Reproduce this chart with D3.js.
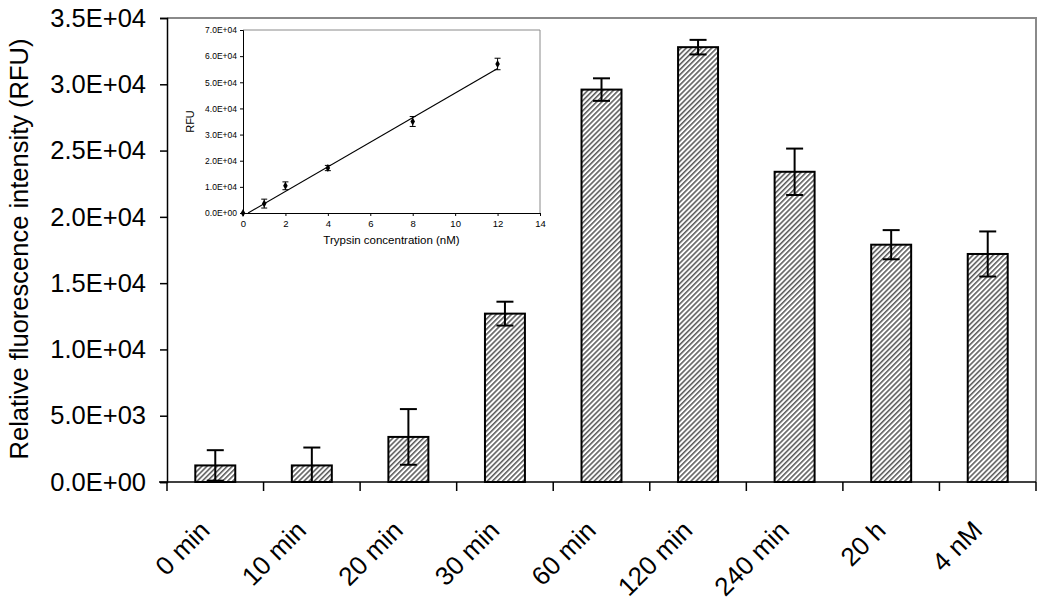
<!DOCTYPE html>
<html><head><meta charset="utf-8">
<script src="https://cdn.jsdelivr.net/npm/d3@7"></script>
<style>body{margin:0;background:#fff} text{font-family:Arial,"Liberation Sans",sans-serif;fill:#000}</style>
</head><body><svg id="c" width="1050" height="608"></svg>
<script>
// ---- data ----
const categories = ["0 min","10 min","20 min","30 min","60 min","120 min","240 min","20 h","4 nM"];
const rfu = [1250,1250,3400,12700,29600,32800,23400,17900,17200];
const rfuErr = [1150,1350,2100,900,850,550,1750,1100,1700];
const yTicks = [0,5000,10000,15000,20000,25000,30000,35000];
const yTickLabels = ["0.0E+00","5.0E+03","1.0E+04","1.5E+04","2.0E+04","2.5E+04","3.0E+04","3.5E+04"];

const insetConc = [0,1,2,4,8,12];
const insetRfu = [0,3600,10400,17200,35000,57000];
const insetErr = [0,1700,1500,1000,1900,2200];
const insetTrendX = [0.24,12];
const insetTrendY = [0,55300];
const insetYTicks = [0,10000,20000,30000,40000,50000,60000,70000];
const insetYTickLabels = ["0.0E+00","1.0E+04","2.0E+04","3.0E+04","4.0E+04","5.0E+04","6.0E+04","7.0E+04"];
const insetXTicks = [0,2,4,6,8,10,12,14];

// ---- main chart ----
const svg = d3.select("#c");
const L = 167, R = 1036, T = 18, B = 482;

const defs = svg.append("defs");
const pat = defs.append("pattern").attr("id","hatch").attr("patternUnits","userSpaceOnUse")
  .attr("width",3.6).attr("height",3.6).attr("patternTransform","rotate(45)");
pat.append("rect").attr("width",3.6).attr("height",3.6).attr("fill","#fff");
pat.append("line").attr("x1",0.8).attr("y1",0).attr("x2",0.8).attr("y2",3.6)
  .attr("stroke","#3a3a3a").attr("stroke-width",1.3);

const x = d3.scaleBand().domain(categories).range([L,R]).paddingInner(0.586).paddingOuter(0.293);
const y = d3.scaleLinear().domain([0,35000]).range([B,T]);

// plot area border (gray top/right)
svg.append("path").attr("d",`M${L},${y(35000)}H${R}V${B}`).attr("fill","none")
  .attr("stroke","#8a8a8a").attr("stroke-width",2);

// y axis
const yAxis = d3.axisLeft(y).tickValues(yTicks).tickSize(7).tickPadding(14)
  .tickFormat((d,i)=>yTickLabels[i]);
const gy = svg.append("g").attr("transform",`translate(${L},0)`).call(yAxis);
gy.select(".domain").attr("stroke","#000").attr("stroke-width",1.5);
gy.selectAll(".tick line").attr("stroke","#000").attr("stroke-width",1.5);
gy.selectAll(".tick text").attr("font-size",25.5).attr("font-family","Arial, 'Liberation Sans', sans-serif");

// bars
const bw = x.bandwidth();
svg.append("g").selectAll("rect").data(rfu).join("rect")
  .attr("x",(d,i)=>x(categories[i])).attr("y",d=>y(d))
  .attr("width",bw).attr("height",d=>B-y(d))
  .attr("fill","url(#hatch)").attr("stroke","#000").attr("stroke-width",2);

// error bars
const eg = svg.append("g").attr("stroke","#000").attr("stroke-width",2);
rfu.forEach((v,i)=>{
  const cx = x(categories[i]) + bw/2;
  const hi = y(v+rfuErr[i]), lo = y(Math.max(0,v-rfuErr[i]));
  eg.append("line").attr("x1",cx).attr("x2",cx).attr("y1",hi).attr("y2",lo);
  eg.append("line").attr("x1",cx-8.5).attr("x2",cx+8.5).attr("y1",hi).attr("y2",hi);
  eg.append("line").attr("x1",cx-8.5).attr("x2",cx+8.5).attr("y1",lo).attr("y2",lo);
});

// x axis
const step = x.step();
svg.append("line").attr("x1",L-8).attr("x2",R).attr("y1",B).attr("y2",B)
  .attr("stroke","#000").attr("stroke-width",1.5);
for (let i=0;i<=categories.length;i++){
  const tx = L + i*step;
  svg.append("line").attr("x1",tx).attr("x2",tx).attr("y1",B).attr("y2",B+9)
    .attr("stroke","#000").attr("stroke-width",1.5);
}
svg.append("g").selectAll("text").data(categories).join("text")
  .attr("transform",d=>`translate(${x(d)+bw/2-4},${B+50}) rotate(-45)`)
  .attr("text-anchor","end").attr("font-size",26).text(d=>d);

// y title
svg.append("text").attr("transform",`translate(28,249) rotate(-90)`)
  .attr("text-anchor","middle").attr("font-size",25.5)
  .text("Relative fluorescence intensity (RFU)");

// ---- inset ----
const iL = 243, iR = 540, iT = 30, iB = 213;
const ix = d3.scaleLinear().domain([0,14]).range([iL,iR]);
const iy = d3.scaleLinear().domain([0,70000]).range([iB,iT]);
const ins = svg.append("g");
ins.append("path").attr("d",`M${iL},${iT}H${iR}V${iB}`).attr("fill","none")
  .attr("stroke","#8a8a8a").attr("stroke-width",1);

const iyAxis = d3.axisLeft(iy).tickValues(insetYTicks).tickSize(3).tickPadding(3)
  .tickFormat((d,i)=>insetYTickLabels[i]);
const giy = ins.append("g").attr("transform",`translate(${iL},0)`).call(iyAxis);
const ixAxis = d3.axisBottom(ix).tickValues(insetXTicks).tickSize(3).tickPadding(4)
  .tickFormat(d=>d);
const gix = ins.append("g").attr("transform",`translate(0,${iB})`).call(ixAxis);
[giy,gix].forEach(g=>{
  g.select(".domain").attr("stroke","#000").attr("stroke-width",1);
  g.selectAll(".tick line").attr("stroke","#000");
  g.selectAll(".tick text").attr("font-size",8.5).attr("font-family","Arial, 'Liberation Sans', sans-serif").attr("fill","#222");
});
gix.selectAll(".tick text").attr("font-size",9.5);

ins.append("text").attr("x",(iL+iR)/2).attr("y",244).attr("text-anchor","middle")
  .attr("font-size",11.5).attr("fill","#222").text("Trypsin concentration (nM)");
ins.append("text").attr("transform",`translate(194,${(iT+iB)/2}) rotate(-90)`)
  .attr("text-anchor","middle").attr("font-size",11).attr("fill","#222").text("RFU");

// trendline
ins.append("line").attr("x1",ix(insetTrendX[0])).attr("y1",iy(insetTrendY[0]))
  .attr("x2",ix(insetTrendX[1])).attr("y2",iy(insetTrendY[1]))
  .attr("stroke","#000").attr("stroke-width",1.2);

// inset error bars + points
const ieg = ins.append("g").attr("stroke","#000").attr("stroke-width",1);
insetConc.forEach((c,i)=>{
  if (!insetErr[i]) return;
  const cx = ix(c), hi = iy(insetRfu[i]+insetErr[i]), lo = iy(insetRfu[i]-insetErr[i]);
  ieg.append("line").attr("x1",cx).attr("x2",cx).attr("y1",hi).attr("y2",lo);
  ieg.append("line").attr("x1",cx-3).attr("x2",cx+3).attr("y1",hi).attr("y2",hi);
  ieg.append("line").attr("x1",cx-3).attr("x2",cx+3).attr("y1",lo).attr("y2",lo);
});
ins.append("g").selectAll("path").data(insetConc).join("path")
  .attr("transform",(d,i)=>`translate(${ix(d)},${iy(insetRfu[i])})`)
  .attr("d",d3.symbol(d3.symbolDiamond,18)).attr("fill","#000");
</script></body></html>
